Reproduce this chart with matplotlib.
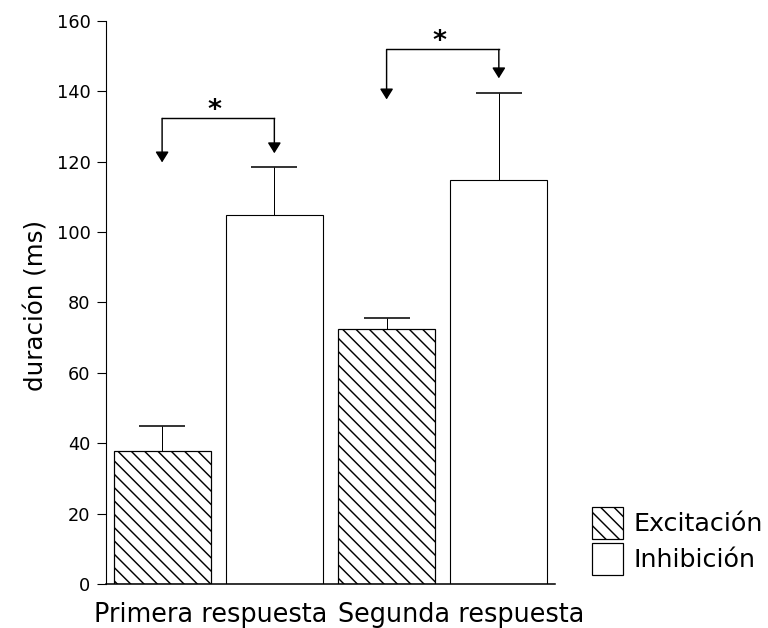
import numpy as np
import matplotlib
matplotlib.use('Agg')
import matplotlib.pyplot as plt
from matplotlib.patches import Patch

# Data
groups = ['Primera respuesta', 'Segunda respuesta']
series = ['Excitación', 'Inhibición']
excitacion = [37.9, 72.4]
excitacion_err = [6.9, 3.2]
inhibicion = [105.0, 114.8]
inhibicion_err = [13.4, 24.6]
# significance brackets: (bar left, bar right, line level, left tip, right tip)
brackets = [(0, 1, 132.3, 119.8, 122.4),
            (2, 3, 151.9, 137.7, 143.7)]
yticks = [0, 20, 40, 60, 80, 100, 120, 140, 160]

plt.rcParams['hatch.linewidth'] = 1.3
plt.rcParams['font.family'] = 'DejaVu Sans'

fig = plt.figure(figsize=(9.6, 7.85), dpi=80)
ax = fig.add_axes([0.138, 0.0701, 0.5846, 0.8965])

# bars interleaved: Exc1, Inh1, Exc2, Inh2
x_exc = np.array([0, 2])
x_inh = np.array([1, 3])
width = 0.865

ax.bar(x_exc, excitacion, width, color='white', edgecolor='black',
       hatch='\\\\', linewidth=1.1, zorder=2)
ax.bar(x_inh, inhibicion, width, color='white', edgecolor='black',
       linewidth=1.0, zorder=2)

# upward-only error bars (hide the lower caps)
for xs, vals, errs in [(x_exc, excitacion, excitacion_err),
                       (x_inh, inhibicion, inhibicion_err)]:
    eb = ax.errorbar(xs, vals, yerr=[np.zeros(2), errs], fmt='none',
                     ecolor='black', elinewidth=0.9, capsize=21, capthick=1.4,
                     zorder=1)
    eb[1][0].set_visible(False)

# significance brackets with arrows
for xl, xr, level, tl, tr in brackets:
    ax.plot([xl, xr], [level, level], color='black', lw=1.3)
    for xx, tip in [(xl, tl), (xr, tr)]:
        ax.annotate('', xy=(xx, tip), xytext=(xx, level),
                    arrowprops=dict(arrowstyle='-|>,head_length=0.8,head_width=0.5',
                                    mutation_scale=10, color='black', lw=1.3,
                                    shrinkA=0, shrinkB=0))
    ax.text((xl + xr) / 2 - 0.03, level, '*', ha='center', va='baseline',
            fontsize=24, fontweight='bold')

ax.set_xlim(-0.5, 3.5)
ax.set_ylim(0, 160)
ax.set_yticks(yticks)
ax.set_xticks([0.434, 2.661])
ax.set_xticklabels(groups, fontsize=23)
ax.tick_params(axis='x', length=0, pad=16)
ax.tick_params(axis='y', length=8, width=1.0, labelsize=16, pad=6, direction='out')

ax.spines['top'].set_visible(False)
ax.spines['right'].set_visible(False)
ax.spines['left'].set_linewidth(1.0)
ax.spines['bottom'].set_linewidth(1.4)

ax.set_ylabel('duración (ms)', fontsize=22)
ax.yaxis.set_label_coords(-0.127, 0.494)

handles = [Patch(facecolor='white', edgecolor='black', hatch='\\\\', linewidth=1.1),
           Patch(facecolor='white', edgecolor='black', linewidth=1.1)]
fig.legend(handles, series, loc='upper left', bbox_to_anchor=(0.771, 0.1927),
           frameon=False, fontsize=22.8, handlelength=1.22, handleheight=1.54,
           handletextpad=0.43, labelspacing=0.18, borderpad=0, borderaxespad=0)

fig.savefig('out.png', dpi=80)
